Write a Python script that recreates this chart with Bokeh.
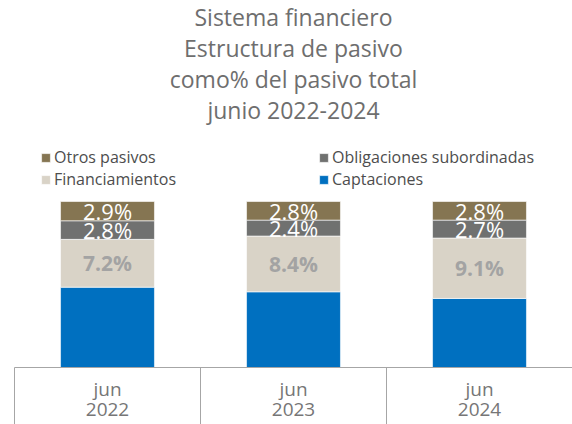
from bokeh.plotting import figure
from bokeh.models import Range1d, LinearAxis, FixedTicker, Legend, LegendItem, ColumnDataSource, Title
from bokeh.core.properties import value
from bokeh.embed import file_html
from bokeh.resources import INLINE

# ---- data ----
periods = ["2022", "2023", "2024"]
months = ["jun", "jun", "jun"]
captaciones = [87.1, 86.4, 85.4]
financiamientos = [7.2, 8.4, 9.1]
obligaciones = [2.8, 2.4, 2.7]
otros = [2.9, 2.8, 2.8]
title_lines = ["Sistema financiero", "Estructura de pasivo", "como% del pasivo total", "junio 2022-2024"]

series_keys = ["cap", "fin", "obl", "otr"]
series_names = ["Captaciones", "Financiamientos", "Obligaciones subordinadas", "Otros pasivos"]
series_values = [captaciones, financiamientos, obligaciones, otros]
colors = ["#0070c0", "#d9d3c7", "#707170", "#857552"]
label_colors = ["#ffffff", "#a3a3a3", "#ffffff", "#ffffff"]
label_sizes = ["21px", "21px", "22px", "22px"]
label_styles = ["normal", "bold", "normal", "normal"]

FONT = "Open Sans"
n = len(periods)
xs = [i + 0.5 for i in range(n)]
data = dict(x=xs)
for k, v in zip(series_keys, series_values):
    data[k] = v
src = ColumnDataSource(data)

p = figure(width=572, height=424, x_range=Range1d(0, n), y_range=Range1d(75, 111.6),
           output_backend="svg", toolbar_location=None,
           x_axis_type=None, y_axis_type=None, title=None,
           min_border_left=14, min_border_right=0, min_border_top=124, min_border_bottom=57)
p.outline_line_color = None
p.background_fill_color = "white"

for line in reversed(title_lines):
    p.add_layout(Title(text=line, align="center", text_font=FONT, text_font_size="23px",
                       text_font_style="normal", text_color="#6e6e6e", standoff=-3, offset=0), "above")

renderers = p.vbar_stack(series_keys, x="x", width=0.505, color=colors, source=src,
                         line_color="#ffffff", line_width=0.6)

# data labels
bottom = [0.0] * n
for vals, col, size, style in zip(series_values, label_colors, label_sizes, label_styles):
    mids = [b + v / 2 for b, v in zip(bottom, vals)]
    p.text(x=xs, y=mids, text=[f"{v:.1f}%" for v in vals], text_align="center",
           text_baseline="middle", text_color=col, text_font=value(FONT),
           text_font_size=size, text_font_style=style)
    bottom = [b + v for b, v in zip(bottom, vals)]

# category axis with separators ("jun") and a second row of labels (years)
ax = LinearAxis(ticker=FixedTicker(ticks=xs, minor_ticks=list(range(n))),
                major_label_overrides={x: m for x, m in zip(xs, months)})
ax.major_tick_out = 0
ax.major_tick_in = 0
ax.minor_tick_out = 58
ax.minor_tick_in = 0
ax.minor_tick_line_color = "#a6a6a6"
ax.axis_line_color = "#a6a6a6"
ax.major_label_text_font = FONT
ax.major_label_text_font_size = "19px"
ax.major_label_text_color = "#767676"
ax.major_label_text_line_height = 0.8
ax.major_label_standoff = -50
p.add_layout(ax, "below")

ax2 = LinearAxis(ticker=FixedTicker(ticks=xs, minor_ticks=[]),
                 major_label_overrides={x: y for x, y in zip(xs, periods)})
ax2.axis_line_color = None
ax2.major_tick_line_color = None
ax2.minor_tick_line_color = None
ax2.major_tick_out = 0
ax2.minor_tick_out = 0
ax2.major_label_text_font = FONT
ax2.major_label_text_font_size = "19px"
ax2.major_label_text_color = "#767676"
ax2.major_label_text_line_height = 0.8
ax2.major_label_standoff = -2
p.add_layout(ax2, "below")

# legend (col1 Otros/Financiamientos, col2 Obligaciones/Captaciones)
rmap = dict(zip(series_names, renderers))
order = ["Otros pasivos", "Financiamientos", "Obligaciones subordinadas", "Captaciones"]
legend = Legend(items=[LegendItem(label=nm, renderers=[rmap[nm]]) for nm in order],
                location=(26, 177), orientation="vertical", ncols=2,
                glyph_width=11, glyph_height=11, label_standoff=3,
                label_text_font=FONT, label_text_font_size="16px", label_text_color="#4d4d4d",
                label_text_line_height=0.8,
                label_width=264, label_height=18, spacing=0, padding=0, margin=0,
                border_line_color=None, background_fill_alpha=0)
p.add_layout(legend, "center")

open("out.html", "w").write(file_html(p, INLINE))
